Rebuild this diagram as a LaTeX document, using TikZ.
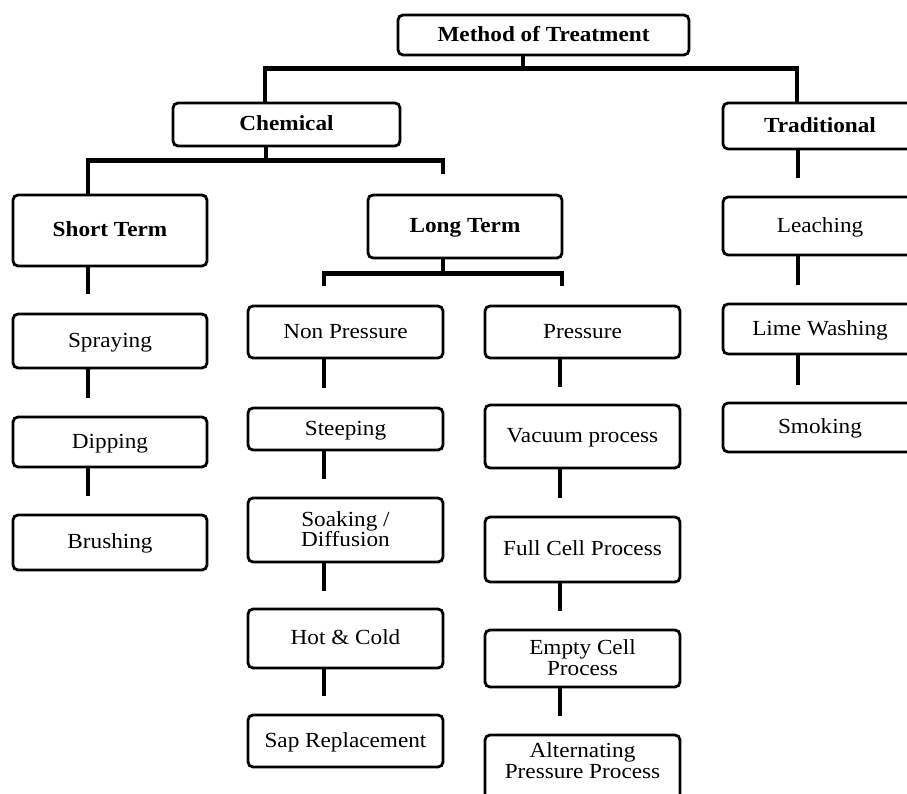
\documentclass[tikz,border=0pt]{standalone}
\usepackage{fontspec}
\setmainfont[FakeStretch=1.08]{Liberation Serif}
\begin{document}
\begin{tikzpicture}[x=1pt,y=-1pt,
  box/.style={draw=black, line width=2.8pt, rounded corners=5pt, fill=white,
    align=center, inner sep=0pt, text depth=2pt, font=\fontsize{21.5}{20.5}\selectfont},
  hbox/.style={box, font=\fontsize{21.5}{20.5}\selectfont\bfseries},
  conn/.style={line width=4.5pt, draw=black}]
\clip (0,0) rectangle (907,794);
\fill[white] (0,0) rectangle (907,794);
% level 0/1
\node[hbox, minimum width=291pt, minimum height=40pt] (mot) at (543.5,35) {Method of Treatment};
\node[hbox, minimum width=227pt, minimum height=43pt] (chem) at (286.5,124.5) {Chemical};
\node[hbox, minimum width=194pt, minimum height=46pt] (trad) at (820,126) {Traditional};
% level 2
\node[hbox, minimum width=194pt, minimum height=71pt] (short) at (110,230.5) {Short Term};
\node[hbox, minimum width=194pt, minimum height=63pt] (long) at (465,226.5) {Long Term};
% short term column
\node[box, minimum width=194pt, minimum height=54pt] (spray) at (110,341) {Spraying};
\node[box, minimum width=194pt, minimum height=50pt] (dip) at (110,442) {Dipping};
\node[box, minimum width=194pt, minimum height=55pt] (brush) at (110,542.5) {Brushing};
% non pressure column
\node[box, minimum width=195pt, minimum height=52pt] (nonp) at (345.5,332) {Non Pressure};
\node[box, minimum width=195pt, minimum height=42pt] (steep) at (345.5,429) {Steeping};
\node[box, minimum width=195pt, minimum height=64pt] (soak) at (345.5,530) {Soaking /\\Diffusion};
\node[box, minimum width=195pt, minimum height=59pt] (hot) at (345.5,638.5) {Hot \& Cold};
\node[box, minimum width=195pt, minimum height=52pt] (sap) at (345.5,741) {Sap Replacement};
% pressure column
\node[box, minimum width=195pt, minimum height=52pt] (press) at (582.5,332) {Pressure};
\node[box, minimum width=195pt, minimum height=63pt] (vac) at (582.5,436.5) {Vacuum process};
\node[box, minimum width=195pt, minimum height=65pt] (full) at (582.5,549.5) {Full Cell Process};
\node[box, minimum width=195pt, minimum height=57pt] (empty) at (582.5,658.5) {Empty Cell\\Process};
\node[box, minimum width=195pt, minimum height=76pt] (alt) at (582.5,773) {Alternating\\Pressure Process\\[2pt]};
% traditional column
\node[box, minimum width=194pt, minimum height=58pt] (leach) at (820,226) {Leaching};
\node[box, minimum width=194pt, minimum height=50pt] (lime) at (820,329) {Lime Washing};
\node[box, minimum width=194pt, minimum height=49pt] (smoke) at (820,427.5) {Smoking};
% tree connectors
\draw[conn] ([xshift=-20.5pt]mot.south) -- ++(0,15);
\draw[conn] ([xshift=-21.5pt]chem.north) -- ++(0,-33) -| ([xshift=-23pt]trad.north);
\draw[conn] ([xshift=-20.5pt]chem.south) -- ++(0,16);
\draw[conn] ([xshift=-22pt]short.north) -- ++(0,-33) -- ++(355,0) -- ++(0,13);
\draw[conn] ([xshift=-22pt]long.south) -- ++(0,17);
\draw[conn] ([xshift=-21.5pt]nonp.north) ++(0,-19) -- ++(0,-12) -- ++(238,0) -- ++(0,12);
% stems
\draw[conn] ([xshift=-22pt]short.south) -- ++(0,27);
\draw[conn] ([xshift=-22pt]spray.south) -- ++(0,29);
\draw[conn] ([xshift=-22pt]dip.south) -- ++(0,28);
\draw[conn] ([xshift=-21.5pt]nonp.south) -- ++(0,29);
\draw[conn] ([xshift=-21.5pt]steep.south) -- ++(0,28);
\draw[conn] ([xshift=-21.5pt]soak.south) -- ++(0,28);
\draw[conn] ([xshift=-21.5pt]hot.south) -- ++(0,27);
\draw[conn] ([xshift=-22.5pt]press.south) -- ++(0,28);
\draw[conn] ([xshift=-22.5pt]vac.south) -- ++(0,29);
\draw[conn] ([xshift=-22.5pt]full.south) -- ++(0,28);
\draw[conn] ([xshift=-22.5pt]empty.south) -- ++(0,28);
\draw[conn] ([xshift=-22pt]trad.south) -- ++(0,28);
\draw[conn] ([xshift=-22pt]leach.south) -- ++(0,29);
\draw[conn] ([xshift=-22pt]lime.south) -- ++(0,30);
\end{tikzpicture}
\end{document}
